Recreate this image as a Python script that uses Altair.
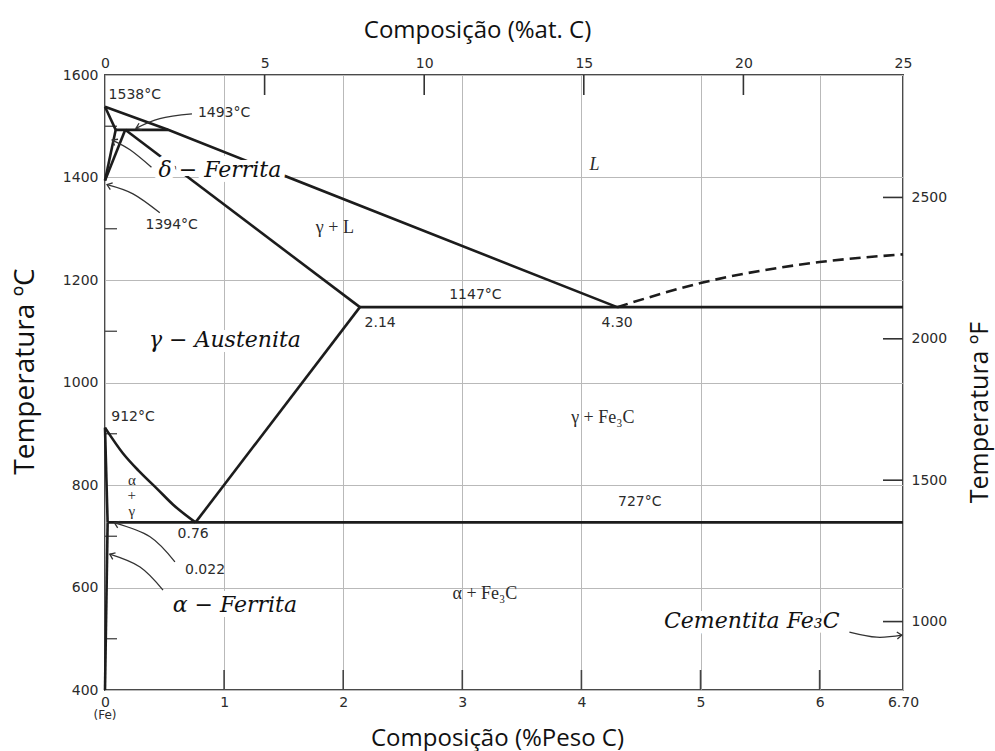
import altair as alt
import numpy as np
import pandas as pd

# ---------------- phase boundaries (wt% C, °C) ----------------
liquidus_wt = [0.0, 0.53, 4.30]
liquidus_T = [1538, 1493, 1147]
delta_solidus_wt = [0.0, 0.09]
delta_solidus_T = [1538, 1493]
peritectic_wt = [0.09, 0.53]
peritectic_T = [1493, 1493]
delta_solvus_wt = [0.09, 0.0]
delta_solvus_T = [1493, 1394]
gamma_delta_wt = [0.17, 0.0]
gamma_delta_T = [1493, 1394]
gamma_solidus_wt = [0.17, 2.14]
gamma_solidus_T = [1493, 1147]
eutectic_wt = [2.14, 6.70]
eutectic_T = [1147, 1147]
acm_wt = [0.76, 2.14]
acm_T = [727, 1147]
alpha_boundary_wt = [0.0, 0.022]
alpha_boundary_T = [912, 727]
alpha_solvus_wt = [0.022, 0.0]
alpha_solvus_T = [727, 400]
eutectoid_wt = [0.022, 6.70]
eutectoid_T = [727, 727]

# curved A3 boundary (gamma / alpha+gamma)
a3_wt = [0.0, 0.15, 0.29, 0.44, 0.57, 0.76]
a3_T = [912, 862, 826, 792, 762, 727]

# metastable Fe3C liquidus (dashed)
cementite_liq_wt = [4.30, 5.0, 6.0, 6.70]
cementite_liq_T = [1147, 1194, 1235, 1250]

# ---------------- axis ticks ----------------
wt_ticks = [0, 1, 2, 3, 4, 5, 6, 6.7]
wt_inner_ticks = [1, 2, 3, 4, 5, 6]
temp_ticks = [400, 600, 800, 1000, 1200, 1400, 1600]
temp_minor_ticks = [500, 700, 900, 1100, 1300, 1500]
at_ticks = [0, 5, 10, 15, 20, 25]
at_inner_ticks = [5, 10, 15, 20]
f_ticks = [1000, 1500, 2000, 2500]

# ---------------- annotations ----------------
sans_text = ["1538°C", "1493°C", "1394°C", "1147°C", "2.14", "4.30",
             "912°C", "727°C", "0.76", "0.022"]
sans_wt = [0.25, 1.00, 0.56, 3.11, 2.31, 4.30, 0.235, 4.49, 0.74, 0.84]
sans_T = [1561, 1526, 1307, 1171, 1116, 1116, 933, 767, 704, 634]

phase_text = ["γ + L", "γ + Fe₃C", "α + Fe₃C"]
phase_wt = [1.93, 4.18, 3.19]
phase_T = [1301, 931, 587]

stack_text = ["α", "+", "γ"]
stack_wt = [0.225, 0.225, 0.225]
stack_T = [810, 781, 749]

big_text = ["δ − Ferrita", "γ − Austenita", "α  − Ferrita", "Cementita Fe₃C"]
big_wt = [0.965, 1.007, 1.09, 5.43]
big_T = [1415, 1083, 566, 535]

liquid_text = ["L"]
liquid_wt = [4.11]
liquid_T = [1424]

# leader arrows (tail -> head)
arrow_1493_wt = [0.73, 0.46, 0.26]
arrow_1493_T = [1524, 1515, 1496]
arrow_delta_wt = [0.39, 0.21, 0.06]
arrow_delta_T = [1420, 1454, 1473]
arrow_1394_wt = [0.46, 0.235, 0.017]
arrow_1394_T = [1331, 1368, 1386]
arrow_0022_wt = [0.587, 0.378, 0.08]
arrow_0022_T = [650, 699, 726]
arrow_alpha_wt = [0.487, 0.294, 0.04]
arrow_alpha_T = [595, 640, 665]
arrow_cem_wt = [6.25, 6.48, 6.69]
arrow_cem_T = [513, 503, 507]

# ---------------- layout ----------------
W, H = 798, 615
WT_MAX, T_MIN, T_MAX = 6.7, 400, 1600
INK = "#1c1c1c"
TXT = "#2b2b2b"
TITLE_FONT = "Open Sans"


def curves_frame(curves):
    rows = []
    for name, (ws, ts) in curves.items():
        for i, (w, t) in enumerate(zip(ws, ts)):
            rows.append({"curve": name, "order": i, "wt": w, "T": t})
    return pd.DataFrame(rows)


straight = curves_frame({
    "liquidus": (liquidus_wt, liquidus_T),
    "delta_solidus": (delta_solidus_wt, delta_solidus_T),
    "peritectic": (peritectic_wt, peritectic_T),
    "delta_solvus": (delta_solvus_wt, delta_solvus_T),
    "gamma_delta": (gamma_delta_wt, gamma_delta_T),
    "gamma_solidus": (gamma_solidus_wt, gamma_solidus_T),
    "eutectic": (eutectic_wt, eutectic_T),
    "acm": (acm_wt, acm_T),
    "alpha_boundary": (alpha_boundary_wt, alpha_boundary_T),
    "alpha_solvus": (alpha_solvus_wt, alpha_solvus_T),
    "eutectoid": (eutectoid_wt, eutectoid_T),
})
a3 = curves_frame({"a3": (a3_wt, a3_T)})
dashed = curves_frame({"fe3c": (cementite_liq_wt, cementite_liq_T)})

arrow_defs = {
    "a1493": (arrow_1493_wt, arrow_1493_T),
    "adelta": (arrow_delta_wt, arrow_delta_T),
    "a1394": (arrow_1394_wt, arrow_1394_T),
    "a0022": (arrow_0022_wt, arrow_0022_T),
    "aalpha": (arrow_alpha_wt, arrow_alpha_T),
    "acem": (arrow_cem_wt, arrow_cem_T),
}
arrows = curves_frame(arrow_defs)

# arrow heads: orientation from the last segment, measured in screen space
heads = []
px_per_wt = W / WT_MAX
px_per_T = H / (T_MAX - T_MIN)
for name, (ws, ts) in arrow_defs.items():
    dx = (ws[-1] - ws[-2]) * px_per_wt
    dy = -(ts[-1] - ts[-2]) * px_per_T
    ang = float(np.degrees(np.arctan2(dx, -dy))) % 360
    heads.append({"curve": name, "wt": ws[-1], "T": ts[-1], "angle": ang})
heads = pd.DataFrame(heads)


def labels(texts, ws, ts):
    return pd.DataFrame({"label": texts, "wt": ws, "T": ts})


# ---------------- scales / axes ----------------
X = alt.X(
    "wt:Q",
    scale=alt.Scale(domain=[0, WT_MAX], nice=False, zero=False),
    axis=alt.Axis(
        orient="bottom", values=wt_ticks, labelFlush=False,
        labelExpr="datum.value == 6.7 ? '6.70' : format(datum.value, 'd')",
        ticks=False, domain=False, grid=True, gridColor="#b9b9b9", gridWidth=1,
        labelFont="DejaVu Sans", labelFontSize=14, labelColor=TXT, labelPadding=5,
        title="Composição (%Peso C)", titleFont=TITLE_FONT, titleFontSize=24,
        titleFontWeight="normal", titleColor="#111", titleX=392, titleY=48,
        titleAlign="center", titleBaseline="middle",
    ),
)
Y = alt.Y(
    "T:Q",
    scale=alt.Scale(domain=[T_MIN, T_MAX], nice=False, zero=False),
    axis=alt.Axis(
        orient="left", values=temp_ticks, format="d", labelFlush=False,
        ticks=False, domain=False, grid=True, gridColor="#b9b9b9", gridWidth=1,
        labelFont="DejaVu Sans", labelFontSize=14, labelColor=TXT, labelPadding=7,
        title="Temperatura ºC", titleFont=TITLE_FONT, titleFontSize=28,
        titleFontWeight="normal", titleColor="#111", titleAngle=270,
        titleX=-80, titleY=296, titleAlign="center", titleBaseline="middle",
    ),
)

# ---------------- main layers ----------------
grid_base = alt.Chart(pd.DataFrame({"wt": [0.0], "T": [400.0]})).mark_point(opacity=0).encode(x=X, y=Y)

lines = alt.Chart(straight).mark_line(color=INK, strokeWidth=2.6).encode(
    x=X, y=Y, detail="curve:N", order="order:Q")
a3_line = alt.Chart(a3).mark_line(color=INK, strokeWidth=2.6, interpolate="monotone").encode(
    x=X, y=Y, order="order:Q")
dash_line = alt.Chart(dashed).mark_line(
    color=INK, strokeWidth=2.6, strokeDash=[11, 6], interpolate="monotone").encode(
    x=X, y=Y, order="order:Q")

left_minor = alt.Chart(pd.DataFrame({"T": temp_minor_ticks})).mark_rule(
    color="#444", strokeWidth=1.3).encode(y=Y, x=alt.value(0), x2=alt.value(12))
bottom_inner = alt.Chart(pd.DataFrame({"wt": wt_inner_ticks})).mark_rule(
    color="#444", strokeWidth=1.6).encode(x=X, y=alt.value(H), y2=alt.value(H - 20))

big_df = labels(big_text, big_wt, big_T)
big_font = dict(font="DejaVu Serif", fontStyle="italic", fontSize=22,
                align="center", baseline="middle")
big_halo = alt.Chart(big_df).mark_text(
    color="white", stroke="white", strokeWidth=10, **big_font).encode(x=X, y=Y, text="label:N")
big_labels = alt.Chart(big_df).mark_text(color="#111", **big_font).encode(
    x=X, y=Y, text="label:N")

sans_labels = alt.Chart(labels(sans_text, sans_wt, sans_T)).mark_text(
    font="DejaVu Sans", fontSize=14, color=TXT, align="center", baseline="middle"
).encode(x=X, y=Y, text="label:N")
phase_labels = alt.Chart(labels(phase_text, phase_wt, phase_T)).mark_text(
    font="Liberation Serif", fontSize=18, color=TXT, align="center", baseline="middle"
).encode(x=X, y=Y, text="label:N")
stack_labels = alt.Chart(labels(stack_text, stack_wt, stack_T)).mark_text(
    font="Liberation Serif", fontSize=15, color=TXT, align="center", baseline="middle"
).encode(x=X, y=Y, text="label:N")
liquid_label = alt.Chart(labels(liquid_text, liquid_wt, liquid_T)).mark_text(
    font="Liberation Serif", fontStyle="italic", fontSize=18, color=TXT,
    align="center", baseline="middle"
).encode(x=X, y=Y, text="label:N")
fe_label = alt.Chart(pd.DataFrame({"wt": [0.0], "label": ["(Fe)"]})).mark_text(
    font="DejaVu Sans", fontSize=12, color=TXT, align="center", baseline="middle"
).encode(x=X, y=alt.value(H + 25), text="label:N")

arrow_lines = alt.Chart(arrows).mark_line(
    color="#333", strokeWidth=1.3, interpolate="cardinal").encode(
    x=X, y=Y, detail="curve:N", order="order:Q")
arrow_heads = alt.Chart(heads).mark_point(
    shape="M-0.75,1L0,0L0.75,1", filled=False, color="#333", strokeWidth=1.3,
    size=90, opacity=1).encode(
    x=X, y=Y, angle=alt.Angle("angle:Q", scale=None))

main = alt.layer(
    grid_base, left_minor, bottom_inner, lines, a3_line, dash_line,
    big_halo, big_labels, sans_labels, phase_labels, stack_labels,
    liquid_label, fe_label, arrow_lines, arrow_heads,
)

# ---------------- secondary axes: atomic % (top) and °F (right) ----------------
X_at = alt.X(
    "at:Q",
    scale=alt.Scale(domain=[0, 25], nice=False, zero=False),
    axis=alt.Axis(
        orient="top", values=at_ticks, format="d", labelFlush=False,
        ticks=False, domain=False, grid=False,
        labelFont="DejaVu Sans", labelFontSize=14, labelColor=TXT, labelPadding=5,
        title="Composição (%at. C)", titleFont=TITLE_FONT, titleFontSize=24,
        titleFontWeight="normal", titleColor="#111", titleX=372, titleY=-45,
        titleAlign="center", titleBaseline="middle",
    ),
)
Y_f = alt.Y(
    "F:Q",
    scale=alt.Scale(domain=[758, 2933], nice=False, zero=False),
    axis=alt.Axis(
        orient="right", values=f_ticks, format="d", labelFlush=False,
        ticks=False, domain=False, grid=False,
        labelFont="DejaVu Sans", labelFontSize=14, labelColor=TXT, labelPadding=8,
        title="Temperatura ºF", titleFont=TITLE_FONT, titleFontSize=25,
        titleFontWeight="normal", titleColor="#111", titleAngle=270,
        titleX=76, titleY=337, titleAlign="center", titleBaseline="middle",
    ),
)
top_ticks = alt.Chart(pd.DataFrame({"at": at_inner_ticks})).mark_rule(
    color="#333", strokeWidth=1.6).encode(x=X_at, y=alt.value(0), y2=alt.value(20))
right_ticks = alt.Chart(pd.DataFrame({"F": f_ticks})).mark_rule(
    color="#333", strokeWidth=1.6).encode(y=Y_f, x=alt.value(W - 20), x2=alt.value(W))
secondary = alt.layer(top_ticks, right_ticks)

chart = (
    alt.layer(main, secondary)
    .resolve_scale(x="independent", y="independent")
    .properties(
        width=W, height=H, autosize="none",
        padding={"left": 105, "top": 75, "right": 92, "bottom": 61},
        background="white",
    )
    .configure_view(stroke="#4a4a4a", strokeWidth=2)
)

chart.save("out.html", embed_options={"renderer": "svg", "actions": False})
